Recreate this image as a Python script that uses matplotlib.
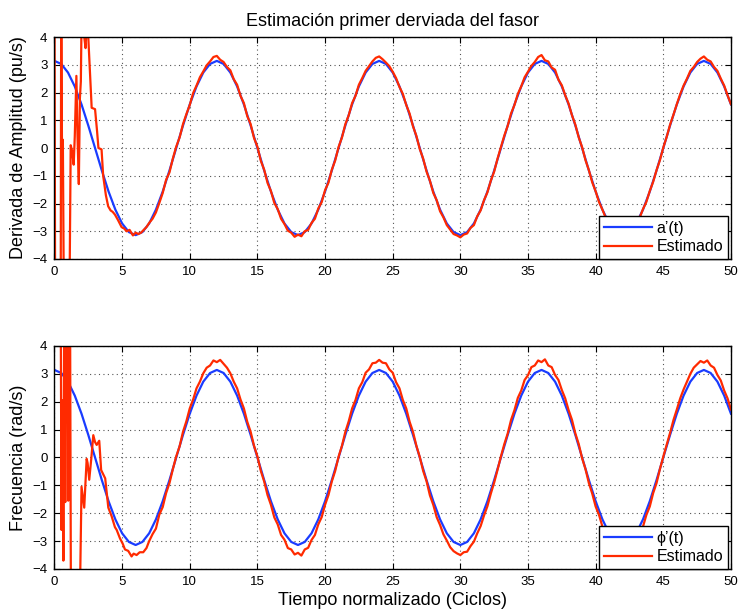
import numpy as np
import matplotlib
matplotlib.use("Agg")
import matplotlib.pyplot as plt

plt.rcParams['font.family'] = ['Liberation Sans', 'DejaVu Sans']

# Valor teorico (igual en ambos paneles), muestreado cada 0.5 ciclos
t_ref = np.arange(0, 50.01, 0.5)
ref_vals = [3.14, 3.03, 2.72, 2.22, 1.57, 0.81, 0, -0.81, -1.57, -2.22, -2.72, -3.03,
            -3.14, -3.03, -2.72, -2.22, -1.57, -0.81, 0, 0.81, 1.57, 2.22, 2.72, 3.03,
            3.14, 3.03, 2.72, 2.22, 1.57, 0.81, 0, -0.81, -1.57, -2.22, -2.72, -3.03,
            -3.14, -3.03, -2.72, -2.22, -1.57, -0.81, 0, 0.81, 1.57, 2.22, 2.72, 3.03,
            3.14, 3.03, 2.72, 2.22, 1.57, 0.81, 0, -0.81, -1.57, -2.22, -2.72, -3.03,
            -3.14, -3.03, -2.72, -2.22, -1.57, -0.81, 0, 0.81, 1.57, 2.22, 2.72, 3.03,
            3.14, 3.03, 2.72, 2.22, 1.57, 0.81, 0, -0.81, -1.57, -2.22, -2.72, -3.03,
            -3.14, -3.03, -2.72, -2.22, -1.57, -0.81, 0, 0.81, 1.57, 2.22, 2.72, 3.03,
            3.14, 3.03, 2.72, 2.22, 1.57]

# Estimado amplitud: transitorio inicial
t_a_ini = [0.0, 0.05, 0.46, 0.5, 0.56, 0.62, 0.7, 1.1, 1.2, 1.3, 1.42, 1.5, 1.62, 1.7,
           1.8, 1.88, 1.95, 2.0, 2.1, 2.2, 2.3, 2.35, 2.45, 2.6, 2.75, 3.0, 3.15, 3.25,
           3.48, 3.6, 3.8, 3.97, 4.15, 4.3, 4.47, 4.7, 4.96, 5.15, 5.33, 5.55, 5.8, 6.0,
           6.2, 6.4, 6.6, 6.8, 7.0, 7.25]
a_ini = [6.0, -6.0, -6.0, 6.0, -0.55, 0.3, -6.0, -6.0, 0.1, -0.1, -0.6, 0.4, 2.6, 0.5,
         -1.3, 1.8, 2.4, 4.5, 4.2, 4.0, 3.6, 4.2, 4.5, 3.0, 1.45, 1.4, 0.6, 0.0,
         -0.05, -1.0, -1.7, -2.1, -2.25, -2.3, -2.4, -2.6, -2.85, -2.9, -3.0, -2.95, -3.15, -3.05,
         -3.1, -3.05, -2.95, -2.85, -2.7, -2.55]

# Estimado amplitud: regimen, cada 0.25 ciclos desde 7.5
t_est = np.arange(7.5, 50.01, 0.25)
a_est = [-2.32, -1.98, -1.62, -1.15, -0.88, -0.38, 0.05, 0.38, 0.86, 1.22, 1.55, 1.98,
         2.25, 2.55, 2.76, 2.98, 3.12, 3.28,
         3.32, 3.18, 3.10, 2.92, 2.80, 2.48, 2.28, 1.88, 1.62, 1.15, 0.86, 0.36,
         0.05, -0.46, -0.78, -1.26, -1.55, -1.98, -2.20, -2.55, -2.74, -2.98, -3.05, -3.20,
         -3.12, -3.18, -3.00, -2.95, -2.70, -2.55, -2.18, -1.95, -1.52, -1.25, -0.78, -0.45,
         0.04, 0.38, 0.86, 1.18, 1.62, 1.88, 2.28, 2.52, 2.78, 2.95, 3.12, 3.25,
         3.30, 3.20, 3.08, 2.95, 2.75, 2.52, 2.20, 1.95, 1.55, 1.24, 0.78, 0.44,
         -0.04, -0.38, -0.85, -1.18, -1.62, -1.88, -2.28, -2.50, -2.78, -2.94, -3.10, -3.15,
         -3.22, -3.12, -3.08, -2.88, -2.78, -2.46, -2.25, -1.88, -1.60, -1.18, -0.85, -0.38,
         0.03, 0.45, 0.80, 1.25, 1.55, 1.95, 2.22, 2.55, 2.75, 2.96, 3.10, 3.28,
         3.35, 3.16, 3.12, 2.90, 2.82, 2.46, 2.26, 1.90, 1.60, 1.18, 0.84, 0.38,
         0.03, -0.44, -0.80, -1.24, -1.56, -1.95, -2.22, -2.52, -2.76, -2.92, -3.08, -3.18,
         -3.15, -3.20, -3.02, -2.96, -2.72, -2.52, -2.20, -1.94, -1.55, -1.22, -0.80, -0.44,
         0.02, 0.40, 0.84, 1.20, 1.58, 1.94, 2.25, 2.50, 2.78, 2.92, 3.10, 3.22,
         3.30, 3.18, 3.12, 2.92, 2.78, 2.50, 2.25, 1.90, 1.58]

# Estimado frecuencia: transitorio inicial
t_f_ini = [0.0, 0.46, 0.52, 0.56, 0.6, 0.66, 0.72, 0.8, 0.86, 0.9, 0.98, 1.02, 1.08, 1.15,
           1.22, 1.85, 2.0, 2.2, 2.38, 2.45, 2.57, 2.72, 2.87, 3.0, 3.12, 3.31, 3.45, 3.6,
           3.75, 3.98, 4.22, 4.47, 4.6, 4.84, 5.05, 5.21, 5.45, 5.7, 5.85, 6.07, 6.3, 6.56,
           6.8, 7.0, 7.25]
f_ini = [6.0, 6.0, -2.6, 2.05, 2.0, -3.7, 6.0, -1.6, 2.6, 6.0, 6.0, -1.55, 6.0, 6.0,
         -6.0, -6.0, -1.05, -1.8, -0.05, -0.2, -0.8, -0.05, 0.8, 0.55, 0.45, 0.6, -0.45, -0.6,
         -0.75, -1.8, -2.1, -2.5, -2.6, -2.9, -3.1, -3.3, -3.35, -3.55, -3.45, -3.5, -3.4, -3.4,
         -3.25, -3.0, -2.75]

f_est = [-2.55, -2.05, -1.78, -1.28, -0.92, -0.42, 0.04, 0.40, 0.92, 1.30, 1.76, 2.08,
         2.48, 2.72, 3.02, 3.22, 3.30, 3.48,
         3.42, 3.50, 3.36, 3.22, 3.02, 2.72, 2.48, 2.08, 1.76, 1.28, 0.92, 0.42,
         0.04, -0.48, -0.86, -1.35, -1.70, -2.15, -2.40, -2.78, -2.95, -3.25, -3.30, -3.48,
         -3.42, -3.52, -3.30, -3.24, -2.96, -2.78, -2.40, -2.14, -1.70, -1.35, -0.86, -0.48,
         0.03, 0.42, 0.92, 1.30, 1.76, 2.06, 2.48, 2.70, 3.04, 3.16, 3.38, 3.40,
         3.50, 3.40, 3.38, 3.16, 3.04, 2.70, 2.48, 2.06, 1.76, 1.28, 0.92, 0.42,
         0.02, -0.48, -0.85, -1.36, -1.70, -2.14, -2.42, -2.76, -2.98, -3.22, -3.36, -3.44,
         -3.50, -3.40, -3.38, -3.18, -3.02, -2.72, -2.46, -2.08, -1.75, -1.30, -0.90, -0.44,
         0.04, 0.48, 0.86, 1.35, 1.70, 2.14, 2.40, 2.78, 2.95, 3.24, 3.30, 3.48,
         3.42, 3.52, 3.30, 3.24, 2.96, 2.78, 2.42, 2.12, 1.70, 1.35, 0.86, 0.48,
         -0.03, -0.42, -0.92, -1.30, -1.76, -2.06, -2.48, -2.70, -3.04, -3.16, -3.38, -3.40,
         -3.52, -3.40, -3.36, -3.16, -3.04, -2.70, -2.48, -2.06, -1.76, -1.28, -0.92, -0.42,
         0.03, 0.46, 0.88, 1.34, 1.72, 2.12, 2.44, 2.72, 3.00, 3.22, 3.34, 3.46,
         3.40, 3.48, 3.30, 3.22, 2.96, 2.76, 2.40, 2.12, 1.72]

xticks = [0, 5, 10, 15, 20, 25, 30, 35, 40, 45, 50]
yticks = [-4, -3, -2, -1, 0, 1, 2, 3, 4]

azul = '#1a3cff'
rojo = '#ff2a00'

fig = plt.figure(figsize=(7.39, 6.12), dpi=100)
ax1 = fig.add_axes([0.0737, 0.5768, 0.9154, 0.3627])
ax2 = fig.add_axes([0.0737, 0.0703, 0.9154, 0.3644])

paneles = [
    (ax1, np.concatenate([t_a_ini, t_est]), np.concatenate([a_ini, a_est]),
     'a’(t)', 'Derivada de Amplitud (pu/s)'),
    (ax2, np.concatenate([t_f_ini, t_est]), np.concatenate([f_ini, f_est]),
     'ϕ’(t)', 'Frecuencia (rad/s)'),
]

for ax, t_r, y_r, etiqueta, ylab in paneles:
    ax.plot(t_ref, ref_vals, color=azul, lw=1.6, label=etiqueta)
    ax.plot(t_r, y_r, color=rojo, lw=1.6, label='Estimado')
    ax.set_xlim(0, 50)
    ax.set_ylim(-4, 4)
    ax.set_xticks(xticks)
    ax.set_yticks(yticks)
    ax.set_yticklabels(['−4', '−3', '−2', '−1', '0', '1', '2', '3', '4'])
    ax.grid(True, color='#555555', linestyle=(0, (1, 3)), linewidth=0.8)
    ax.tick_params(direction='in', top=True, right=True, length=4, labelsize=9.5,
                   pad=5)
    for s in ax.spines.values():
        s.set_linewidth(1.0)
    ax.set_ylabel(ylab, fontsize=13, labelpad=4)
    leg = ax.legend(loc='lower right', bbox_to_anchor=(0.996, 0.0), borderaxespad=0,
                    fontsize=11.5, fancybox=False, framealpha=1, edgecolor='black',
                    handlelength=3.0, handletextpad=0.3, borderpad=0.3, labelspacing=0.2)
    leg.get_frame().set_linewidth(1.0)

ax1.set_title('Estimación primer derviada del fasor', fontsize=13, pad=8)
ax2.set_xlabel('Tiempo normalizado (Ciclos)', fontsize=13, labelpad=3)

fig.savefig('out.png', dpi=100)
